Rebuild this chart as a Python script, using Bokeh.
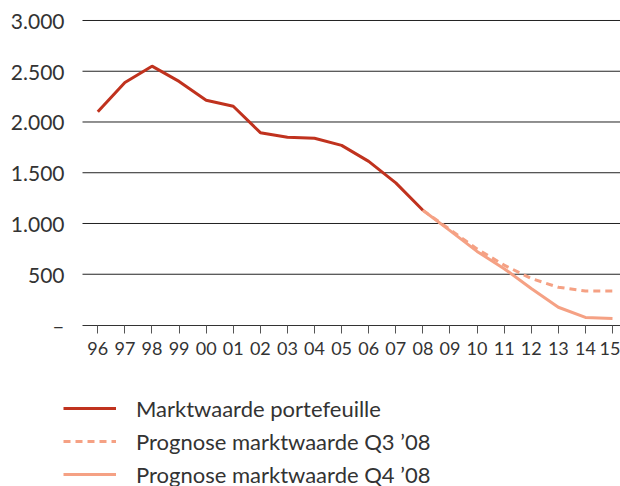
from bokeh.plotting import figure
from bokeh.models import Range1d, FixedTicker, Legend, LegendItem
from bokeh.embed import file_html
from bokeh.resources import INLINE

# ---- data ----
years_hist = [1996, 1997, 1998, 1999, 2000, 2001, 2002, 2003, 2004, 2005, 2006, 2007, 2008]
marktwaarde = [2100, 2390, 2550, 2400, 2215, 2155, 1895, 1850, 1840, 1770, 1612, 1400, 1130]

years_prog = [2008, 2009, 2010, 2011, 2012, 2013, 2014, 2015]
prognose_q3 = [1130, 940, 750, 590, 458, 372, 335, 335]
prognose_q4 = [1130, 930, 725, 555, 360, 175, 75, 65]

x_ticks = list(range(1996, 2016))
x_tick_labels = ["96", "97", "98", "99", "00", "01", "02", "03", "04", "05",
                 "06", "07", "08", "09", "10", "11", "12", "13", "14", "15"]
y_ticks = [0, 500, 1000, 1500, 2000, 2500, 3000]
y_tick_labels = ["\u2013", "500", "1.000", "1.500", "2.000", "2.500", "3.000"]
grid_values = [500, 1000, 1500, 2000, 2500, 3000]

labels = ["Marktwaarde portefeuille",
          "Prognose marktwaarde Q3 \u201908",
          "Prognose marktwaarde Q4 \u201908"]

RED = "#c0321e"
SALMON = "#f5a184"
TEXT = "#333333"
FONT = "Lato"

# plotting area: years 1995.435 .. 2015.295 horizontally, 0 .. 3000 vertically;
# the frame is extended so that axes and legend can live inside it
X_LEFT, X_RIGHT = 1995.435, 2015.295
p = figure(width=620, height=486, output_backend="svg", toolbar_location=None,
           x_range=Range1d(1992.408, X_RIGHT), y_range=Range1d(-1591.1, 3197.0),
           min_border_left=0, min_border_right=0, min_border_top=0,
           min_border_bottom=0)
p.outline_line_color = None
p.background_fill_color = "white"
p.border_fill_color = "white"

# axes at fixed locations inside the frame
p.xaxis.fixed_location = 0
p.xaxis.bounds = (X_LEFT, X_RIGHT)
p.xaxis.ticker = FixedTicker(ticks=x_ticks)
p.xaxis.major_label_overrides = {t: l for t, l in zip(x_ticks, x_tick_labels)}
p.xaxis.minor_tick_line_color = None
p.xaxis.major_tick_in = 0
p.xaxis.major_tick_out = 8
p.xaxis.major_tick_line_color = "#555555"
p.xaxis.axis_line_color = "#333333"
p.xaxis.major_label_standoff = 9
p.xaxis.major_label_text_font = FONT
p.xaxis.major_label_text_font_size = "18px"
p.xaxis.major_label_text_color = TEXT

p.yaxis.fixed_location = X_LEFT
p.yaxis.ticker = FixedTicker(ticks=y_ticks)
p.yaxis.major_label_overrides = {t: l for t, l in zip(y_ticks, y_tick_labels)}
p.yaxis.minor_tick_line_color = None
p.yaxis.major_tick_line_color = None
p.yaxis.major_tick_in = 0
p.yaxis.major_tick_out = 0
p.yaxis.axis_line_color = None
p.yaxis.major_label_standoff = 18
p.yaxis.major_label_text_font = FONT
p.yaxis.major_label_text_font_size = "21px"
p.yaxis.major_label_text_color = TEXT

p.xgrid.grid_line_color = None
p.ygrid.grid_line_color = None

# horizontal gridlines across the plotting area only
p.segment(x0=[X_LEFT] * len(grid_values), x1=[X_RIGHT] * len(grid_values),
          y0=grid_values, y1=grid_values, line_color="#222222", line_width=1)

# lines
r_q3 = p.line(years_prog, prognose_q3, line_color=SALMON, line_width=3,
              line_dash="7 5")
r_q4 = p.line(years_prog, prognose_q4, line_color=SALMON, line_width=3)
r_hist = p.line(years_hist, marktwaarde, line_color=RED, line_width=3)

legend = Legend(items=[LegendItem(label=labels[0], renderers=[r_hist]),
                       LegendItem(label=labels[1], renderers=[r_q3]),
                       LegendItem(label=labels[2], renderers=[r_q4])],
                location=(63, -1.5))
legend.padding = 0
legend.margin = 0
legend.border_line_color = None
legend.background_fill_alpha = 0
legend.glyph_width = 53
legend.glyph_height = 26
legend.label_height = 26
legend.spacing = 6
legend.label_standoff = 20
legend.label_text_font = FONT
legend.label_text_font_size = "22px"
legend.label_text_color = TEXT
p.add_layout(legend, "center")

open("out.html", "w").write(file_html(p, INLINE))
